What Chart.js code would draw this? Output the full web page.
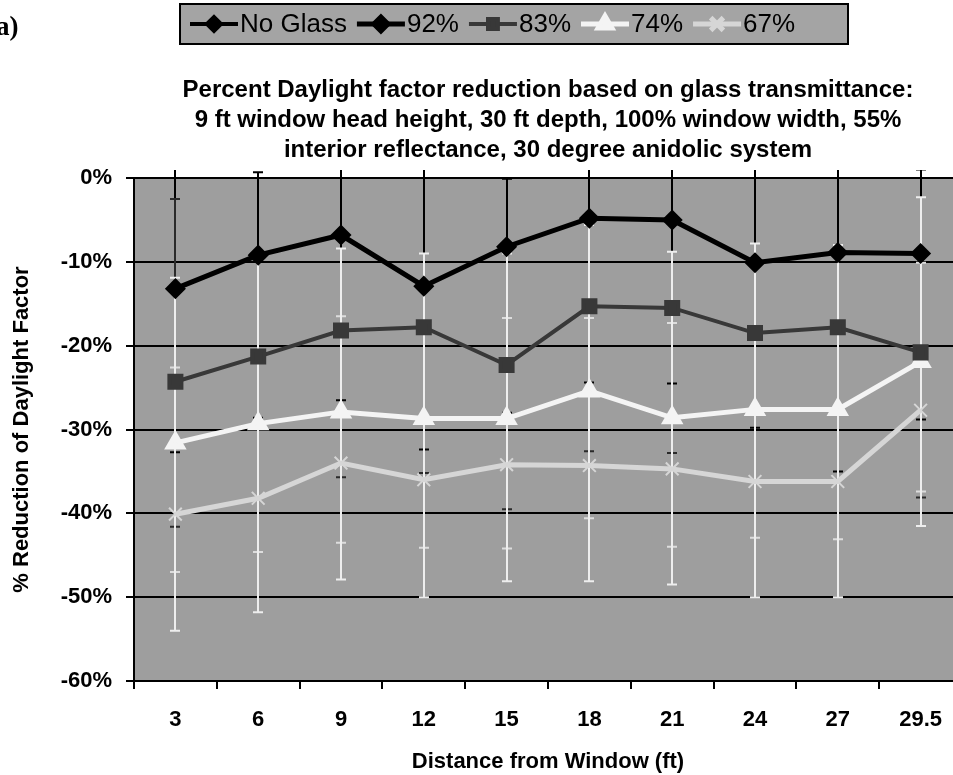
<!DOCTYPE html>
<html><head><meta charset="utf-8">
<script src="https://cdn.jsdelivr.net/npm/chart.js@4.4.1/dist/chart.umd.min.js"></script>
<style>
html,body{margin:0;padding:0;background:#fff;overflow:hidden;width:953px;height:775px}
#wrap{width:975px;height:775px;position:relative}
</style></head>
<body><div id="wrap"><canvas id="c" width="975" height="775"></canvas></div>
<script>
// ---- data ----
const distances = ['3','6','9','12','15','18','21','24','27','29.5'];
const yTicks = [0,-10,-20,-30,-40,-50,-60];
const noGlass = [0,0,0,0,0,0,0,0,0,0];
const t92 = [-13.2,-9.2,-6.8,-12.9,-8.2,-4.8,-5.0,-10.1,-8.9,-9.0];
const t83 = [-24.3,-21.3,-18.2,-17.8,-22.3,-15.3,-15.5,-18.5,-17.8,-20.8];
const t74 = [-31.6,-29.3,-27.9,-28.7,-28.7,-25.4,-28.6,-27.6,-27.6,-21.9];
const t67 = [-40.1,-38.2,-34.0,-36.0,-34.2,-34.3,-34.7,-36.2,-36.2,-27.7];
// error bar ends (upper / lower), null = not visible
const hi92 = [5,0.7,5,5,-0.1,5,5,5,5,1.0];
const lo92 = [-32.7,-28.6,-26.5,-32.4,-28.0,-24.4,-24.5,-29.8,-35.0,-28.8];
const hi83 = [-2.5,null,null,null,null,null,null,null,null,null];
const lo83 = [-41.6,null,-35.7,-35.2,-39.5,-32.6,-32.8,null,null,-38.1];
const hi74 = [-11.9,-9.4,-8.4,-9.0,-9.0,-5.6,-8.8,-7.8,-8.0,-2.3];
const lo74 = [-54.0,-51.8,-47.9,-50.0,-48.1,-48.1,-48.5,-50.0,-50.0,-41.5];
const hi67 = [-22.6,null,-16.5,null,-16.7,-16.7,-17.3,null,-18.5,-10.1];
const lo67 = [-47.0,-44.6,-43.5,-44.1,-44.2,-40.6,-44.0,-42.9,-43.1,-37.4];

const FAM = '"Liberation Sans", Arial, Helvetica, sans-serif';

const plotBg = {
  id:'plotBg',
  beforeDraw(chart){
    const {ctx, chartArea:a} = chart;
    ctx.save(); ctx.fillStyle = '#9e9e9e';
    ctx.fillRect(a.left, a.top, a.right-a.left, a.bottom-a.top);
    ctx.restore();
  }
};

const errorBars = {
  id:'errorBars',
  beforeDatasetsDraw(chart){
    const {ctx, chartArea:a, scales:{y}} = chart;
    ctx.save();
    ctx.beginPath(); ctx.rect(a.left, a.top-8, a.right-a.left, a.bottom-a.top+8); ctx.clip();
    [1,2,4,3].forEach(di=>{
      const ds = chart.data.datasets[di];
      const meta = chart.getDatasetMeta(di);
      ctx.strokeStyle = ds.errColor; ctx.lineWidth = 2;
      meta.data.forEach((pt,i)=>{
        const x = Math.round(pt.x);
        const y0 = y.getPixelForValue(ds.data[i]);
        [ds.errHigh[i], ds.errLow[i]].forEach(v=>{
          if (v == null) return;
          const yv = y.getPixelForValue(v);
          ctx.beginPath();
          ctx.moveTo(x, y0); ctx.lineTo(x, yv);
          ctx.moveTo(x-5, yv); ctx.lineTo(x+5, yv);
          ctx.stroke();
        });
      });
    });
    ctx.restore();
  }
};

const legendBox = {
  id:'legendBox',
  afterDraw(chart){
    const ctx = chart.ctx;
    ctx.save();
    // panel label
    ctx.fillStyle = '#000';
    ctx.font = 'bold 27px "Liberation Serif", "Times New Roman", serif';
    ctx.textBaseline = 'alphabetic'; ctx.textAlign = 'left';
    ctx.fillText('a)', -4, 35);
    // legend box
    const boxL = 180, boxR = 848, boxT = 4, boxB = 44, cy = 24;
    ctx.fillStyle = '#a4a4a4';
    ctx.fillRect(boxL, boxT, boxR-boxL, boxB-boxT);
    ctx.strokeStyle = '#000'; ctx.lineWidth = 2;
    ctx.strokeRect(boxL, boxT, boxR-boxL, boxB-boxT);
    ctx.font = '26px ' + FAM;
    ctx.textBaseline = 'middle';
    const symW = 48, gap = 2, sep = 10;
    const dss = chart.data.datasets;
    let x = 190;
    dss.forEach((ds,i)=>{
      if (i) x += sep;
      ctx.strokeStyle = ds.borderColor; ctx.lineWidth = ds.legendLine || ds.borderWidth;
      ctx.beginPath(); ctx.moveTo(x, cy); ctx.lineTo(x+symW, cy); ctx.stroke();
      ctx.fillStyle = ds.backgroundColor; ctx.strokeStyle = ds.borderColor;
      Chart.helpers.drawPoint(ctx, {pointStyle: ds.pointStyle, radius: ds.legendRadius, borderWidth: ds.pointBorderWidth || 1, rotation:0}, x+symW/2, cy);
      x += symW + gap;
      ctx.fillStyle = '#000';
      ctx.fillText(ds.label, x, cy+1);
      x += ctx.measureText(ds.label).width;
    });
    ctx.restore();
  }
};

new Chart(document.getElementById('c'), {
  type:'line',
  data:{
    labels: distances,
    datasets:[
      {label:'No Glass', data:noGlass, borderColor:'#000', backgroundColor:'#000', borderWidth:2, legendLine:4,
        pointStyle:'rectRot', pointRadius:0, legendRadius:7, errHigh:[], errLow:[], errColor:'#000'},
      {label:'92%', data:t92, borderColor:'#000', backgroundColor:'#000', borderWidth:5,
        pointStyle:'rectRot', pointRadius:7, legendRadius:7, errHigh:hi92, errLow:lo92, errColor:'#000'},
      {label:'83%', data:t83, borderColor:'#383838', backgroundColor:'#383838', borderWidth:4,
        pointStyle:'rect', pointRadius:8.5, legendRadius:7, errHigh:hi83, errLow:lo83, errColor:'#2a2a2a'},
      {label:'74%', data:t74, borderColor:'#f4f4f4', backgroundColor:'#f4f4f4', borderWidth:5,
        pointStyle:'triangle', pointRadius:8, legendRadius:8, errHigh:hi74, errLow:lo74, errColor:'#eeeeee'},
      {label:'67%', data:t67, borderColor:'#d6d6d6', backgroundColor:'#d6d6d6', borderWidth:5,
        pointStyle:'crossRot', pointRadius:9, pointBorderWidth:2, legendRadius:9, errHigh:hi67, errLow:lo67, errColor:'#dddddd'}
    ]
  },
  options:{
    responsive:false, animation:false, devicePixelRatio:1,
    layout:{padding:{top:65, left:0, right:12, bottom:0}},
    plugins:{
      legend:{display:false}, tooltip:{enabled:false},
      title:{display:true, fullSize:false, color:'#000',
        text:['Percent Daylight factor reduction based on glass transmittance:',
              '9 ft window head height, 30 ft depth, 100% window width, 55%',
              'interior reflectance, 30 degree anidolic system'],
        font:{family:FAM, size:24, weight:'bold', lineHeight:1.25},
        padding:{top:10, bottom:13}}
    },
    scales:{
      x:{
        offset:true,
        grid:{offset:true, drawOnChartArea:false, drawTicks:true, tickLength:8, color:'#000', lineWidth:2},
        border:{display:true, color:'#000', width:2},
        ticks:{color:'#000', font:{family:FAM, size:22, weight:'bold'}, padding:18, maxRotation:0, autoSkip:false},
        title:{display:true, text:'Distance from Window (ft)', color:'#000',
          font:{family:FAM, size:22, weight:'bold'}, padding:{top:4, bottom:0}},
        afterFit(s){ s.height = 94; }
      },
      y:{
        min:-60, max:0,
        afterBuildTicks(s){ s.ticks = yTicks.map(v=>({value:v})); },
        ticks:{color:'#000', font:{family:FAM, size:22, weight:'bold'}, padding:14, callback:v=>v+'%'},
        grid:{color:'#000', lineWidth:2, tickLength:8, drawTicks:true},
        border:{display:true, color:'#000', width:2},
        title:{display:true, text:'% Reduction of Daylight Factor', color:'#000',
          font:{family:FAM, size:22, weight:'bold'}, padding:{top:9, bottom:0}},
        afterFit(s){ s.width = 134; }
      }
    }
  },
  plugins:[plotBg, errorBars, legendBox]
});
</script>
</body></html>
